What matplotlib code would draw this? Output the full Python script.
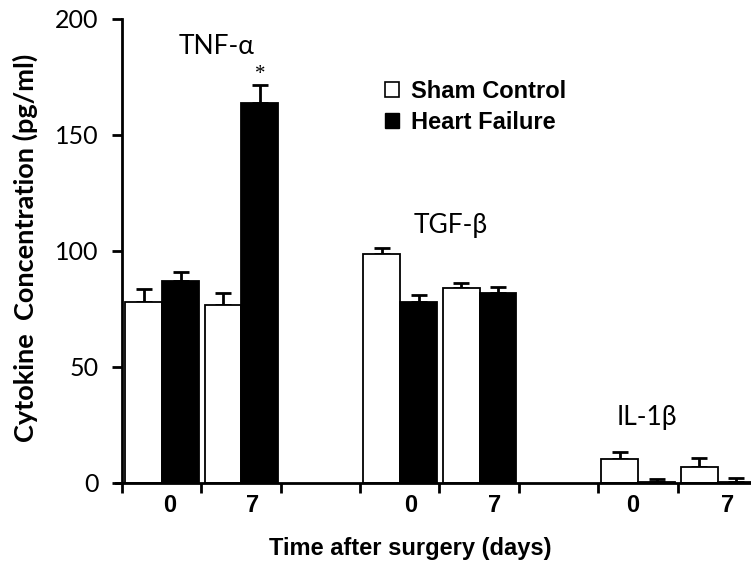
import matplotlib
matplotlib.use("Agg")
import matplotlib.pyplot as plt
from matplotlib.patches import Patch
import numpy as np

# ---- data ----
cytokines = ["TNF-α", "TGF-β", "IL-1β"]
days = ["0", "7"]
series = ["Sham Control", "Heart Failure"]
sham = [78.0, 76.7, 98.6, 84.2, 10.2, 6.9]
sham_err = [5.6, 5.3, 2.8, 1.8, 3.2, 3.9]
hf = [87.0, 164.0, 78.1, 82.0, 0.3, 0.3]
hf_err = [4.0, 7.5, 2.9, 2.4, 1.4, 1.7]
yticks = [0, 50, 100, 150, 200]

W, H = 751, 563
fig = plt.figure(figsize=(W / 100, H / 100), dpi=100)
AX_W = 757 - 122
ax = fig.add_axes([122 / W, 80 / H, AX_W / W, 464 / H])

# slot index for each (cytokine, day): gap slot between cytokine groups
slots = np.array([3 * g + t for g in range(len(cytokines)) for t in range(len(days))], dtype=float)
bw = 0.465
ekw = dict(elinewidth=2.0, capthick=2.0, ecolor="black")
ax.bar(slots + 0.04, sham, width=bw, align="edge", color="white", edgecolor="black",
       linewidth=1.3, zorder=2)
ax.bar(slots + 0.04 + bw, hf, width=bw, align="edge", color="black", edgecolor="black",
       linewidth=1.3, zorder=2)
ax.errorbar(slots + 0.04 + bw / 2, sham, yerr=[np.zeros(len(sham)), sham_err], fmt="none",
            capsize=6, zorder=1, **ekw)
ax.errorbar(slots + 0.04 + 1.5 * bw, hf, yerr=[np.zeros(len(hf)), hf_err], fmt="none",
            capsize=6, zorder=1, **ekw)

ax.set_xlim(0, 8)
ax.set_ylim(0, 200)

for s in ["top", "right"]:
    ax.spines[s].set_visible(False)
ax.spines["left"].set_linewidth(2.0)
ax.spines["bottom"].set_linewidth(2.0)
ax.spines["bottom"].set_bounds(-0.07, 8)

ax.set_yticks(yticks)
ax.set_yticklabels([str(v) for v in yticks], fontfamily="Lato", fontsize=18)
ax.tick_params(axis="y", direction="out", length=7, width=2, pad=10)

ax.set_xticks(np.arange(0, 9))
ax.set_xticklabels([])
ax.tick_params(axis="x", which="major", direction="out", length=7, width=2)
label_pos = [0.605, 1.65, 3.64, 4.70, 6.44, 7.63]
ax.set_xticks(label_pos, minor=True)
ax.set_xticklabels(days * len(cytokines), minor=True, fontfamily="Liberation Sans",
                   fontweight="bold", fontsize=17)
ax.tick_params(axis="x", which="minor", length=0, pad=8)

ax.set_ylabel("Cytokine  Concentration (pg/ml)", fontfamily="Lato",
              fontweight="bold", fontsize=19.5)
ax.yaxis.set_label_coords((38 - 122) / AX_W, (483 - 248) / 464)
ax.set_xlabel("Time after surgery (days)", fontfamily="Liberation Sans",
              fontweight="bold", fontsize=17)
ax.xaxis.set_label_coords((410 - 122) / AX_W, (483 - 537) / 464)

# cytokine labels
lab_xy = [(1.19, 188.0), (4.14, 111.0), (6.61, 28.4)]
for name, (x, y) in zip(cytokines, lab_xy):
    ax.text(x, y, name, ha="center", va="center", fontfamily=["Lato", "DejaVu Sans"],
            fontsize=19)

# significance star
ax.text(slots[1] + 0.04 + 1.5 * bw, hf[1] + hf_err[1] + 4.5, "*", ha="center", va="center",
        fontfamily="Liberation Serif", fontsize=15)

handles = [Patch(facecolor="white", edgecolor="black", linewidth=1.2),
           Patch(facecolor="black", edgecolor="black")]
ax.legend(handles, series, loc="upper left",
          bbox_to_anchor=((385 - 122) / AX_W, (483 - 80) / 464),
          frameon=False, handlelength=0.6, handleheight=0.6, handletextpad=0.5,
          labelspacing=0.35, borderaxespad=0, borderpad=0,
          prop=dict(family="Liberation Sans", weight="bold", size=17))

fig.savefig("out.png", dpi=100)
